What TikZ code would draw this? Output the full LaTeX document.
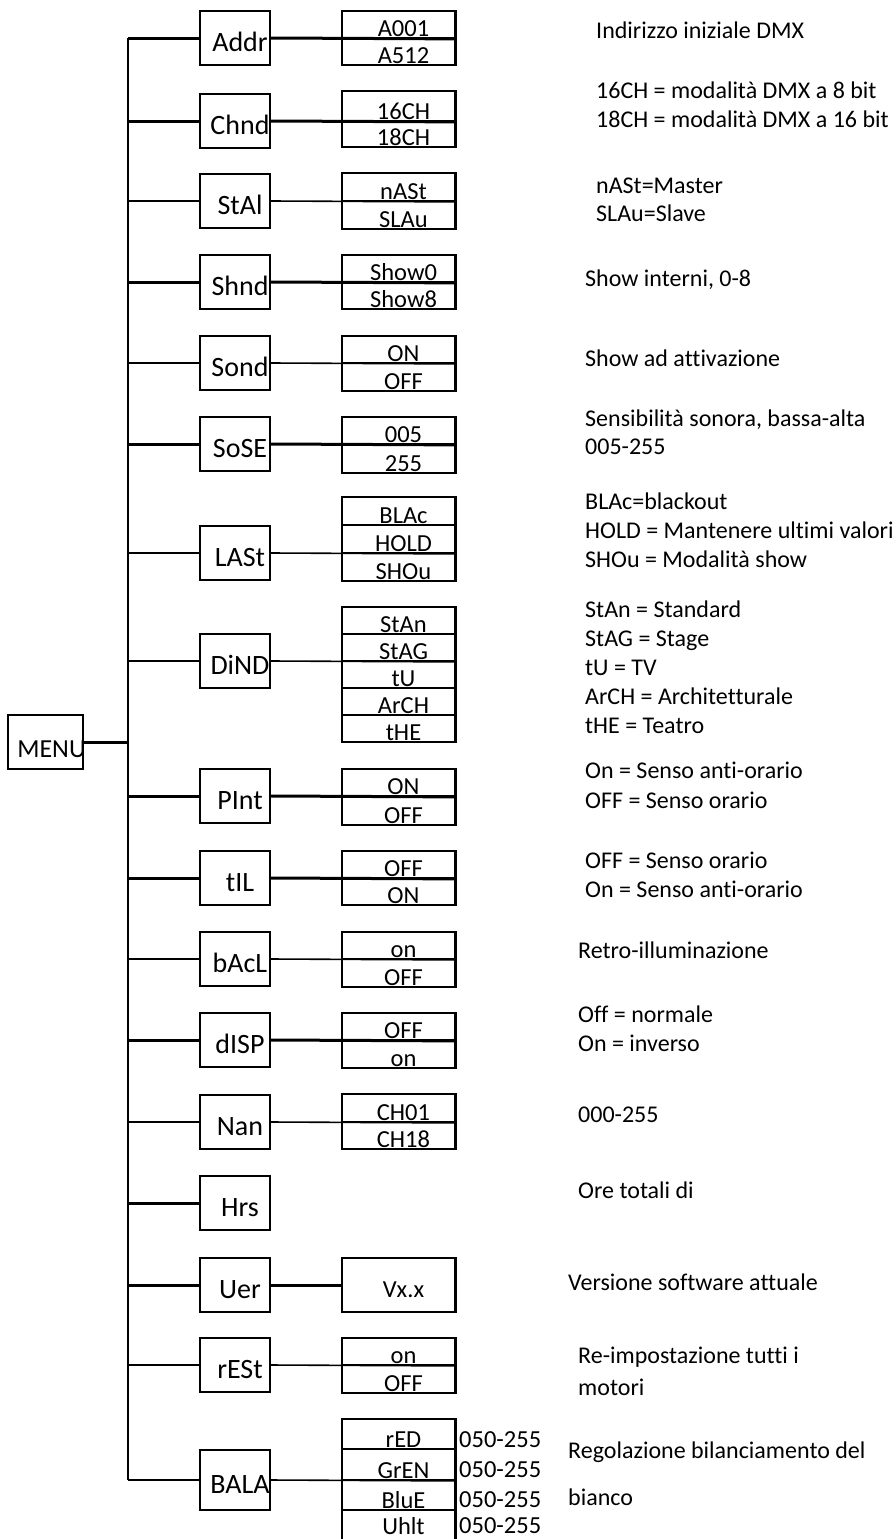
\documentclass[tikz,border=0pt]{standalone}
\usepackage{fontspec}
\setmainfont[Ligatures=NoCommon]{Carlito}
\tikzset{
  thk/.style={line width=3pt},
  thn/.style={line width=1.6pt},
  trunkln/.style={line width=2pt},
  redge/.style={line width=3pt},
  mbox/.style={draw, line width=2.2pt, minimum width=70pt, minimum height=54pt, inner sep=0pt},
  obox/.style={draw, line width=1.8pt, minimum width=113pt, inner sep=0pt},
  mlbl/.style={font=\fontsize{28}{30}\selectfont, anchor=base, inner sep=0pt},
  olbl/.style={font=\fontsize{24.5}{26}\selectfont, anchor=base, inner sep=0pt},
  dsc/.style={font=\fontsize{24}{29}\selectfont, anchor=base west, inner sep=0pt},
}
% menu item: [height] name, y, label
\newcommand\mitem[4][54]{\node[mbox, minimum height=#1pt,
  path picture={\node[mlbl] at ([xshift=5pt,yshift=-13pt]path picture bounding box.center) {#4};}]
  (#2) at (235,#3) {};}
% option row: [baseline raise] name, top, bottom, label
\newcommand\orow[5][2]{\node[obox, minimum height={#4-#3},
  path picture={\node[olbl] at ([xshift=5pt,yshift=#1pt]path picture bounding box.south) {#5};}]
  (#2) at (398.5,{(#3+#4)/2}) {};}
\begin{document}
\begin{tikzpicture}[x=1pt,y=-1pt]
\useasboundingbox (0,0) rectangle (896,1539);
\fill[white] (0,0) rectangle (896,1539);
\clip (0,0) rectangle (896,1539);

% trunk
\coordinate (trunktop) at (128,38);
\coordinate (trunkbot) at (128,1480);
\draw[trunkln] (trunktop) -- (trunkbot);

% MENU
\node[mbox, minimum width=75pt,
  path picture={\node[mlbl, font=\fontsize{26}{28}\selectfont] at ([xshift=6pt,yshift=-15pt]path picture bounding box.center) {MENU};}]
  (menu) at (45.5,742) {};
\draw[thk] (menu.east) -- (trunktop |- menu.east);

% menu items
\mitem{addr}{38}{Addr}
\mitem{chnd}{121}{Chnd}
\mitem{stal}{201}{StAl}
\mitem{shnd}{282}{Shnd}
\mitem{sond}{363}{Sond}
\mitem{sose}{444}{SoSE}
\mitem{last}{553}{LASt}
\mitem{dind}{661}{DiND}
\mitem{pint}{796}{PInt}
\mitem{til}{878}{tIL}
\mitem{bacl}{959}{bAcL}
\mitem{disp}{1040}{dISP}
\mitem{nan}{1122}{Nan}
\mitem{hrs}{1203}{Hrs}
\mitem{uer}{1285}{Uer}
\mitem{rest}{1365}{rESt}
\mitem[60]{bala}{1480}{BALA}

% branches from trunk
\foreach \n in {addr,chnd,shnd,sose,pint,til,disp,hrs,uer}
  \draw[thk] (trunktop |- \n.west) -- (\n.west);
\foreach \n in {stal,sond,last,dind,bacl,nan,rest,bala}
  \draw[thn] (trunktop |- \n.west) -- (\n.west);

% option boxes
\orow{addr1}{11}{38}{A001}
\orow{addr2}{38}{65}{A512}
\orow{chnd1}{91}{121}{16CH}
\orow{chnd2}{121}{147}{18CH}
\orow{stal1}{173}{201}{nASt}
\orow{stal2}{201}{229}{SLAu}
\orow{shnd1}{255}{282}{Show0}
\orow{shnd2}{282}{309}{Show8}
\orow{sond1}{336}{363}{ON}
\orow{sond2}{363}{391}{OFF}
\orow{sose1}{417}{444}{005}
\orow{sose2}{444}{473}{255}
\orow{last1}{497}{525}{BLAc}
\orow{last2}{525}{553}{HOLD}
\orow{last3}{553}{581}{SHOu}
\orow{dind1}{607}{634}{StAn}
\orow{dind2}{634}{661}{StAG}
\orow{dind3}{661}{688}{tU}
\orow{dind4}{688}{715}{ArCH}
\orow{dind5}{715}{742}{tHE}
\orow{pint1}{769}{796}{ON}
\orow{pint2}{796}{825}{OFF}
\orow{til1}{851}{878}{OFF}
\orow{til2}{878}{905}{ON}
\orow{bacl1}{932}{959}{on}
\orow{bacl2}{959}{987}{OFF}
\orow{disp1}{1013}{1040}{OFF}
\orow{disp2}{1040}{1068}{on}
\orow{nan1}{1094}{1122}{CH01}
\orow{nan2}{1122}{1149}{CH18}
\node[obox, minimum height=54pt,
  path picture={\node[olbl] at ([xshift=5pt,yshift=-12pt]path picture bounding box.center) {Vx.x};}]
  (vxx) at (398.5,1285) {};
\orow{rest1}{1338}{1365}{on}
\orow{rest2}{1365}{1393}{OFF}
\orow{bala1}{1419}{1449}{rED}
\orow{bala2}{1449}{1480}{GrEN}
\orow{bala3}{1480}{1510}{BluE}
\orow[7]{bala4}{1510}{1541}{Uhlt}

% thick right edges of option boxes
\draw[redge] (addr1.north east) -- (addr2.south east);
\draw[redge] (chnd1.north east) -- (chnd2.south east);
\draw[redge] (stal1.north east) -- (stal2.south east);
\draw[redge] (shnd1.north east) -- (shnd2.south east);
\draw[redge] (sond1.north east) -- (sond2.south east);
\draw[redge] (sose1.north east) -- (sose2.south east);
\draw[redge] (last1.north east) -- (last3.south east);
\draw[redge] (dind1.north east) -- (dind5.south east);
\draw[redge] (pint1.north east) -- (pint2.south east);
\draw[redge] (til1.north east) -- (til2.south east);
\draw[redge] (bacl1.north east) -- (bacl2.south east);
\draw[redge] (disp1.north east) -- (disp2.south east);
\draw[redge] (nan1.north east) -- (nan2.south east);
\draw[redge] (vxx.north east) -- (vxx.south east);
\draw[redge] (rest1.north east) -- (rest2.south east);
\draw[redge] (bala1.north east) -- (bala4.south east);

% connectors menu item -> options (through the option box)
\draw[thk] (addr.east) -- (addr1.south east);
\draw[thk] (chnd.east) -- (chnd1.south east);
\draw[thn] (stal.east) -- (stal1.south east);
\draw[thk] (shnd.east) -- (shnd1.south east);
\draw[thn] (sond.east) -- (sond1.south east);
\draw[thk] (sose.east) -- (sose1.south east);
\draw[thn] (last.east) -- (last2.south east);
\draw[thn] (dind.east) -- (dind2.south east);
\draw[thk] (pint.east) -- (pint1.south east);
\draw[thk] (til.east) -- (til1.south east);
\draw[thn] (bacl.east) -- (bacl1.south east);
\draw[thk] (disp.east) -- (disp1.south east);
\draw[thn] (nan.east) -- (nan1.south east);
\draw[thk] (uer.east) -- (vxx.west);
\draw[thn] (rest.east) -- (rest1.south east);
\draw[thn] (bala.east) -- (bala2.south east);

% BALA values
\node[olbl, anchor=base west] (val1) at (459,1447) {050-255};
\node[olbl, anchor=base west] (val2) at (459,1477) {050-255};
\node[olbl, anchor=base west] (val3) at (459,1507) {050-255};
\node[olbl, anchor=base west] (val4) at (459,1533) {050-255};

% descriptions
\node[dsc] (d1) at (596,38) {Indirizzo iniziale DMX};
\node[dsc] (d2) at (596,98) {16CH = modalità DMX a 8 bit};
\node[dsc] (d3) at (596,127) {18CH = modalità DMX a 16 bit};
\node[dsc] (d4) at (596,193) {nASt=Master};
\node[dsc] (d5) at (596,221) {SLAu=Slave};
\node[dsc] (d6) at (585,286) {Show interni, 0-8};
\node[dsc] (d7) at (585,366) {Show ad attivazione};
\node[dsc] (d8) at (585,426) {Sensibilità sonora, bassa-alta};
\node[dsc] (d9) at (585,454) {005-255};
\node[dsc] (d10) at (585,509) {BLAc=blackout};
\node[dsc] (d11) at (585,538) {HOLD = Mantenere ultimi valori};
\node[dsc] (d12) at (585,567) {SHOu = Modalità show};
\node[dsc] (d13) at (585,617) {StAn = Standard};
\node[dsc] (d14) at (585,646) {StAG = Stage};
\node[dsc] (d15) at (585,675) {tU = TV};
\node[dsc] (d16) at (585,704) {ArCH = Architetturale};
\node[dsc] (d17) at (585,733) {tHE = Teatro};
\node[dsc] (d18) at (585,778) {On = Senso anti-orario};
\node[dsc] (d19) at (585,808) {OFF = Senso orario};
\node[dsc] (d20) at (585,868) {OFF = Senso orario};
\node[dsc] (d21) at (585,897) {On = Senso anti-orario};
\node[dsc] (d22) at (578,958) {Retro-illuminazione};
\node[dsc] (d23) at (578,1022) {Off = normale};
\node[dsc] (d24) at (578,1051) {On = inverso};
\node[dsc] (d25) at (578,1122) {000-255};
\node[dsc] (d26) at (578,1198) {Ore totali di};
\node[dsc] (d27) at (568,1290) {Versione software attuale};
\node[dsc] (d28) at (578,1363) {Re-impostazione tutti i};
\node[dsc] (d29) at (578,1395) {motori};
\node[dsc] (d30) at (568,1458) {Regolazione bilanciamento del};
\node[dsc] (d31) at (568,1505) {bianco};
\end{tikzpicture}
\end{document}
